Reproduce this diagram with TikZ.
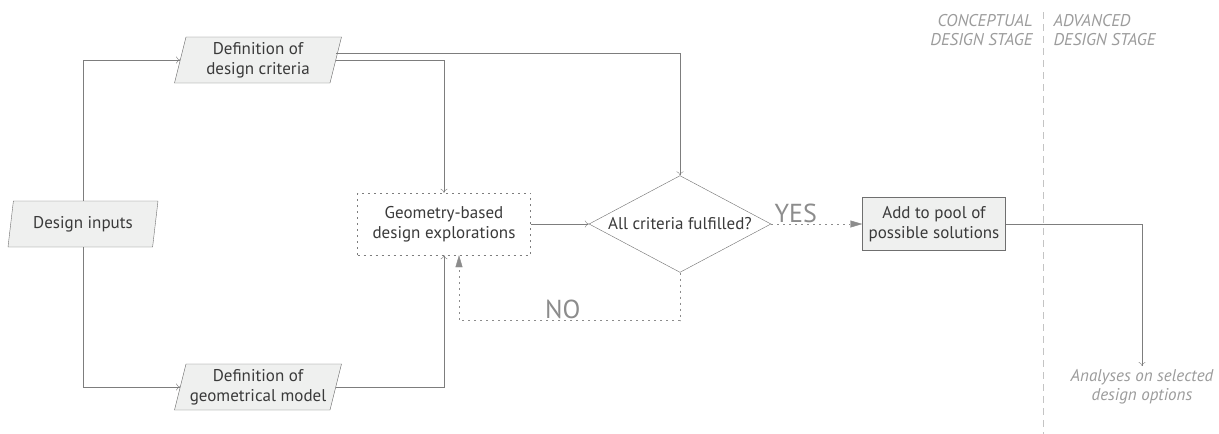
\documentclass[tikz,border=0pt]{standalone}
\usepackage{fontspec}
\setmainfont{PT Sans}
\usetikzlibrary{shapes.geometric,arrows.meta}

\definecolor{boxfill}{HTML}{EFF0EF}
\definecolor{boxline}{HTML}{6F6F6F}
\definecolor{linegray}{HTML}{7D7D7D}
\definecolor{txtgray}{HTML}{3A3A3A}
\definecolor{lightgray}{HTML}{8C8C8C}
\definecolor{stagegray}{HTML}{9C9C9C}

\tikzset{
 every node/.style={font=\fontsize{17}{20}\selectfont,text=txtgray,align=center},
 para/.style={trapezium,trapezium left angle=73,trapezium right angle=107,trapezium stretches body,
   draw=boxline,fill=boxfill,minimum width=#1,minimum height=46pt,inner sep=1pt},
 para/.default=150pt,
 procbox/.style={rectangle,draw=boxline,fill=boxfill,minimum width=143pt,minimum height=53pt,inner sep=1pt},
 explorebox/.style={rectangle,draw=linegray,dash pattern=on 2pt off 4pt,minimum width=173pt,minimum height=62pt,inner sep=1pt},
 decision/.style={diamond,draw=boxline,aspect=1.88,inner sep=2.6pt},
 arr/.style={draw=linegray,-{To[length=4pt,width=7pt]}},
 loopline/.style={draw=lightgray,dash pattern=on 2pt off 4pt,-{Triangle[length=12pt,width=7pt,fill=lightgray]}},
 answer/.style={font=\fontsize{26}{28}\selectfont,text=lightgray},
 stage/.style={font=\fontsize{17}{19}\selectfont\itshape,text=stagegray}
}

\begin{document}
\begin{tikzpicture}[x=1pt,y=-1pt]
\useasboundingbox[fill=white] (0,0) rectangle (1219,434);
%\draw[color=gray!20,step=50] (0,0) grid (1219,434);

\node[para] (inputs) at (83,224) {Design inputs};
\node[para=167pt] (crit) at (258,60) {Definition of\\design criteria};
\node[para=167pt] (model) at (258,387) {Definition of\\geometrical model};
\node[explorebox] (explore) at (444,224) {Geometry-based\\design explorations};
\node[decision] (test) at (680,224) {All criteria fulfilled?};
\node[procbox] (pool) at (934,224) {Add to pool of\\possible solutions};
\node[stage,anchor=north] (analyses) at (1142,366) {Analyses on selected\\design options};

\draw[arr] (inputs.north) |- (crit);
\draw[arr] (inputs.south) |- (model);
\draw[arr] ([yshift=7pt]crit.east) -| (test.north);
\draw[arr] (crit.east) -| (explore.north);
\draw[arr] (model.east) -| (explore.south);
\draw[arr] (explore) -- (test);

\draw[loopline] (test) -- (pool) node[answer,pos=0.27,above,inner sep=1pt]{YES};
\draw[loopline] (test.south) -- ++(0,48) -| ([xshift=15pt]explore.south)
 node[answer,pos=0.265,above,inner sep=2pt]{NO};

\draw[arr] (pool.east) -| (analyses.north);

% stage divider
\draw[draw=stagegray!60,dash pattern=on 7pt off 5pt] (1043,12) -- (1043,434);
\node[stage,anchor=north east,align=right] (concept) at (1036,11) {CONCEPTUAL\\DESIGN STAGE};
\node[stage,anchor=north west,align=left] (advanced) at (1050,11) {ADVANCED\\DESIGN STAGE};
\end{tikzpicture}
\end{document}
